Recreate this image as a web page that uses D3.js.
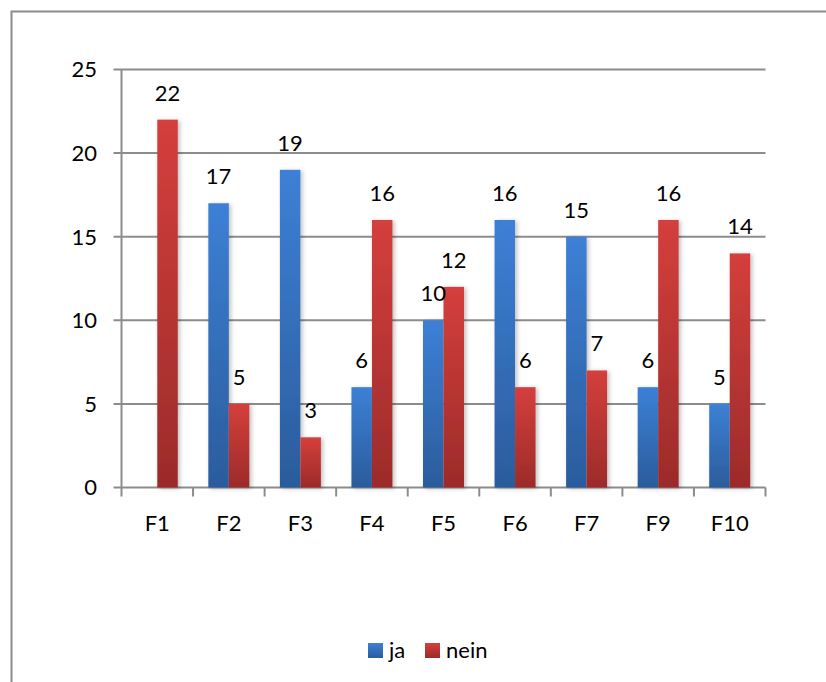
<!DOCTYPE html>
<html>
<head>
<meta charset="utf-8">
<script src="https://cdn.jsdelivr.net/npm/d3@7"></script>
<style>
  html, body { margin: 0; padding: 0; background: #fff; }
  svg { display: block; }
  text { font-family: Lato, "Open Sans", sans-serif; fill: #000; }
</style>
</head>
<body>
<svg id="chart" width="826" height="682"></svg>
<script>
// Antworten je Frage
const categories = ["F1", "F2", "F3", "F4", "F5", "F6", "F7", "F9", "F10"];
const jaValues   = [0, 17, 19, 6, 10, 16, 15, 6, 5];
const neinValues = [22, 5, 3, 16, 12, 6, 7, 16, 14];
const seriesNames = ["ja", "nein"];
const yTicks = [0, 5, 10, 15, 20, 25];

const svg = d3.select("#chart");
const W = 826, H = 682;

// outer frame (left and top edges visible)
svg.append("path")
  .attr("d", `M11.5,${H} L11.5,11.5 L${W},11.5`)
  .attr("fill", "none").attr("stroke", "#8c8c8c").attr("stroke-width", 2);

const m = { left: 121.5, right: 765.5, top: 69.5, bottom: 487.5 };

const x = d3.scaleBand().domain(categories).range([m.left, m.right]).paddingInner(0).paddingOuter(0);
const y = d3.scaleLinear().domain([0, 25]).range([m.bottom, m.top]);

const defs = svg.append("defs");
function grad(id, top, bottom) {
  const g = defs.append("linearGradient").attr("id", id)
    .attr("x1", 0).attr("y1", 0).attr("x2", 0).attr("y2", 1);
  g.append("stop").attr("offset", "0%").attr("stop-color", top);
  g.append("stop").attr("offset", "100%").attr("stop-color", bottom);
}
grad("gJa", "#3c80d6", "#2b5c9c");
grad("gNein", "#d43f3c", "#9c2b2a");
const f = defs.append("filter").attr("id", "shadow")
  .attr("x", "-30%").attr("y", "-5%").attr("width", "160%").attr("height", "110%");
f.append("feDropShadow").attr("dx", 2).attr("dy", 1).attr("stdDeviation", 2)
  .attr("flood-color", "#000").attr("flood-opacity", 0.25);

// gridlines
svg.append("g").selectAll("line").data(yTicks).join("line")
  .attr("x1", m.left - 8).attr("x2", m.right)
  .attr("y1", d => y(d)).attr("y2", d => y(d))
  .attr("stroke", "#8c8c8c").attr("stroke-width", 2);

// y axis line
svg.append("line").attr("x1", m.left).attr("x2", m.left)
  .attr("y1", m.top).attr("y2", m.bottom + 9)
  .attr("stroke", "#8c8c8c").attr("stroke-width", 2);

// x axis ticks at category borders
const borders = categories.map(c => x(c)).concat([m.right]);
svg.append("g").selectAll("line").data(borders.slice(1)).join("line")
  .attr("x1", d => d).attr("x2", d => d)
  .attr("y1", m.bottom).attr("y2", m.bottom + 9)
  .attr("stroke", "#8c8c8c").attr("stroke-width", 2);

// y tick labels
svg.append("g").selectAll("text").data(yTicks).join("text")
  .attr("x", 97).attr("y", d => y(d)).attr("dy", "0.36em")
  .attr("text-anchor", "end").attr("font-size", 22).text(d => d);

// x tick labels
svg.append("g").selectAll("text").data(categories).join("text")
  .attr("x", d => x(d) + x.bandwidth() / 2).attr("y", 531)
  .attr("text-anchor", "middle").attr("font-size", 22).text(d => d);

// bars
const barW = 20.5;
const rows = categories.map((c, i) => ({ c, ja: jaValues[i], nein: neinValues[i] }));
const inner = d3.scaleBand().domain(seriesNames)
  .range([0, barW * 2]);
const offset = (x.bandwidth() - barW * 2) / 2;

const barData = [];
rows.forEach(r => {
  seriesNames.forEach(s => {
    barData.push({ c: r.c, s, v: r[s] });
  });
});

const gBars = svg.append("g").attr("filter", "url(#shadow)");
gBars.selectAll("rect").data(barData.filter(d => d.v > 0)).join("rect")
  .attr("x", d => x(d.c) + offset + inner(d.s))
  .attr("width", inner.bandwidth())
  .attr("y", d => y(d.v))
  .attr("height", d => y(0) - y(d.v))
  .attr("fill", d => d.s === "ja" ? "url(#gJa)" : "url(#gNein)");

// value labels
svg.append("g").selectAll("text").data(barData.filter(d => d.v > 0)).join("text")
  .attr("x", d => x(d.c) + offset + inner(d.s) + inner.bandwidth() / 2)
  .attr("y", d => y(d.v) - 19)
  .attr("text-anchor", "middle").attr("font-size", 22).text(d => d.v);

// legend
const legend = svg.append("g");
const legendItems = [
  { name: "ja", fill: "url(#gJa)", x: 368 },
  { name: "nein", fill: "url(#gNein)", x: 425 }
];
legendItems.forEach(it => {
  legend.append("rect").attr("x", it.x).attr("y", 643).attr("width", 15).attr("height", 15)
    .attr("fill", it.fill);
  legend.append("text").attr("x", it.x + 21).attr("y", 658)
    .attr("font-size", 22).text(it.name);
});
</script>
</body>
</html>
